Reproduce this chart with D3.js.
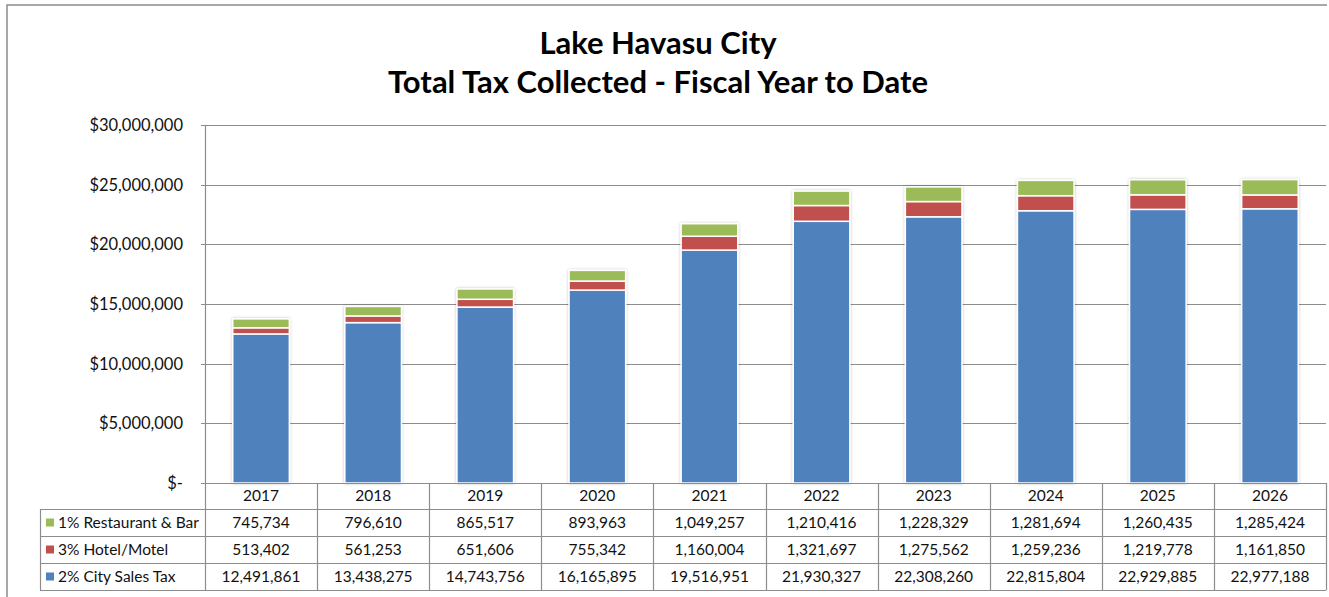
<!DOCTYPE html>
<html>
<head>
<meta charset="utf-8">
<script src="https://cdn.jsdelivr.net/npm/d3@7"></script>
<style>
  body { margin: 0; background: #fff; }
  svg text { font-family: Lato, "Open Sans", sans-serif; }
</style>
</head>
<body>
<div id="chart"></div>
<script>
// data
let years = ['2017', '2018', '2019', '2020', '2021', '2022', '2023', '2024', '2025', '2026'];
let restaurantBar = [745734, 796610, 865517, 893963, 1049257, 1210416, 1228329, 1281694, 1260435, 1285424];
let hotelMotel = [513402, 561253, 651606, 755342, 1160004, 1321697, 1275562, 1259236, 1219778, 1161850];
let citySales = [12491861, 13438275, 14743756, 16165895, 19516951, 21930327, 22308260, 22815804, 22929885, 22977188];
let yTicks = [0, 5000000, 10000000, 15000000, 20000000, 25000000, 30000000];
let seriesNames = ['1% Restaurant & Bar', '3% Hotel/Motel', '2% City Sales Tax'];
let seriesColors = ['#9BBB59', '#C0504D', '#4F81BD'];

let width = 1329;
let height = 597;

// plot area
let plot = { left: 205, right: 1326, top: 125, bottom: 483 };
let rowH = [27, 27, 27];
let headerH = 26;
let tableLeft = 40;

let svg = d3.select('#chart')
    .append('svg')
    .attr('width', width)
    .attr('height', height);

// soft shadow round the bars
let defs = svg.append('defs');
let f = defs.append('filter').attr('id', 'shadow')
    .attr('x', '-20%').attr('y', '-5%').attr('width', '140%').attr('height', '110%');
f.append('feGaussianBlur').attr('in', 'SourceAlpha').attr('stdDeviation', 1.6).attr('result', 'blur');
f.append('feComponentTransfer').append('feFuncA').attr('type', 'linear').attr('slope', 0.25);
let merge = f.append('feMerge');
merge.append('feMergeNode');
merge.append('feMergeNode').attr('in', 'SourceGraphic');

// outer chart border
svg.append('path')
    .attr('d', `M7,${height} L7,5 L1327,5`)
    .attr('fill', 'none')
    .attr('stroke', '#8c8c8c')
    .attr('stroke-width', 1.5);

// title
svg.append('text')
    .text('Lake Havasu City')
    .attr('x', 658).attr('y', 54)
    .attr('text-anchor', 'middle')
    .style('font-weight', 'bold')
    .style('font-size', '31px');
svg.append('text')
    .text('Total Tax Collected - Fiscal Year to Date')
    .attr('x', 658).attr('y', 93)
    .attr('text-anchor', 'middle')
    .style('font-weight', 'bold')
    .style('font-size', '31px');

let x = d3.scaleBand()
    .domain(years)
    .range([plot.left, plot.right])
    .paddingInner(0)
    .paddingOuter(0);

let y = d3.scaleLinear()
    .domain([0, 30000000])
    .range([plot.bottom, plot.top]);

// gridlines
svg.append('g')
    .selectAll('line')
    .data(yTicks)
    .enter()
    .append('line')
    .attr('x1', plot.left - 4)
    .attr('x2', plot.right)
    .attr('y1', d => Math.round(y(d)) + 0.5)
    .attr('y2', d => Math.round(y(d)) + 0.5)
    .attr('stroke', '#8c8c8c')
    .attr('stroke-width', 1.2);

// y axis labels
let fmt = d3.format(',');
svg.append('g')
    .selectAll('text')
    .data(yTicks)
    .enter()
    .append('text')
    .text(d => d === 0 ? '$-' : '$' + fmt(d))
    .attr('x', 183)
    .attr('y', d => y(d) + 6)
    .attr('text-anchor', 'end')
    .style('font-size', '16.5px')
    .style('fill', '#111');

// stacked bars
let rows = years.map((yr, i) => ({
    year: yr,
    city: citySales[i],
    hotel: hotelMotel[i],
    rest: restaurantBar[i]
}));
let stack = d3.stack().keys(['city', 'hotel', 'rest']);
let stacked = stack(rows);
let keyColor = { city: seriesColors[2], hotel: seriesColors[1], rest: seriesColors[0] };

let barW = x.bandwidth() * 0.505;

let barGroups = svg.append('g').selectAll('.bar-group')
    .data(rows)
    .enter()
    .append('g')
    .attr('class', 'bar-group')
    .attr('filter', 'url(#shadow)');

barGroups.each(function (d, i) {
    let g = d3.select(this);
    stacked.forEach(s => {
        g.append('rect')
            .attr('x', x(d.year) + (x.bandwidth() - barW) / 2)
            .attr('y', y(s[i][1]))
            .attr('width', barW)
            .attr('height', y(s[i][0]) - y(s[i][1]))
            .style('fill', keyColor[s.key])
            .style('stroke', '#fff')
            .style('stroke-width', 1.5);
    });
});

// left plot border
svg.append('line')
    .attr('x1', plot.left + 0.5).attr('x2', plot.left + 0.5)
    .attr('y1', plot.top).attr('y2', plot.bottom)
    .attr('stroke', '#8c8c8c')
    .attr('stroke-width', 1.2);

// data table
let table = svg.append('g');
let tableColor = '#8c8c8c';
let tTop = plot.bottom;
let rowTops = [tTop + headerH, tTop + headerH + rowH[0], tTop + headerH + rowH[0] + rowH[1]];
let tBottom = rowTops[2] + rowH[2];

// horizontal lines
[tTop + headerH, rowTops[1], rowTops[2], tBottom].forEach(yy => {
    table.append('line')
        .attr('x1', tableLeft).attr('x2', plot.right)
        .attr('y1', yy + 0.5).attr('y2', yy + 0.5)
        .attr('stroke', tableColor).attr('stroke-width', 1.2);
});
table.append('line')
    .attr('x1', plot.left).attr('x2', plot.right)
    .attr('y1', tTop + 0.5).attr('y2', tTop + 0.5)
    .attr('stroke', tableColor).attr('stroke-width', 1.2);

// vertical lines
years.forEach(yr => {
    table.append('line')
        .attr('x1', Math.round(x(yr)) + 0.5).attr('x2', Math.round(x(yr)) + 0.5)
        .attr('y1', tTop).attr('y2', tBottom)
        .attr('stroke', tableColor).attr('stroke-width', 1.2);
});
table.append('line')
    .attr('x1', plot.right + 0.5).attr('x2', plot.right + 0.5)
    .attr('y1', tTop).attr('y2', tBottom)
    .attr('stroke', tableColor).attr('stroke-width', 1.2);
table.append('line')
    .attr('x1', tableLeft + 0.5).attr('x2', tableLeft + 0.5)
    .attr('y1', tTop + headerH).attr('y2', tBottom)
    .attr('stroke', tableColor).attr('stroke-width', 1.2);

// header (years)
table.selectAll('.yr')
    .data(years)
    .enter()
    .append('text')
    .text(d => d)
    .attr('x', d => x(d) + x.bandwidth() / 2)
    .attr('y', tTop + 18)
    .attr('text-anchor', 'middle')
    .style('font-size', '15.5px')
    .style('fill', '#111');

// series rows
let tableRows = [restaurantBar, hotelMotel, citySales];
tableRows.forEach((vals, r) => {
    let top = rowTops[r];
    table.append('rect')
        .attr('x', tableLeft + 6)
        .attr('y', top + rowH[r] / 2 - 4)
        .attr('width', 8).attr('height', 8)
        .style('fill', seriesColors[r]);
    table.append('text')
        .text(seriesNames[r])
        .attr('x', tableLeft + 18)
        .attr('y', top + rowH[r] / 2 + 5.5)
        .style('font-size', '15.5px')
        .style('fill', '#111');
    table.selectAll('.v' + r)
        .data(vals)
        .enter()
        .append('text')
        .text(d => fmt(d))
        .attr('x', (d, i) => x(years[i]) + x.bandwidth() / 2)
        .attr('y', top + rowH[r] / 2 + 5.5)
        .attr('text-anchor', 'middle')
        .style('font-size', '15.5px')
        .style('fill', '#111');
});
</script>
</body>
</html>
